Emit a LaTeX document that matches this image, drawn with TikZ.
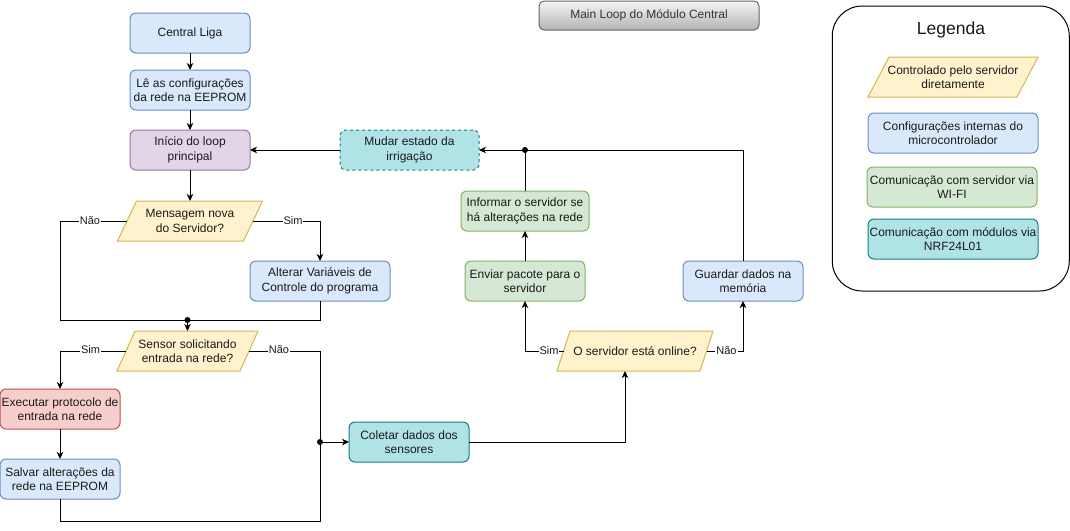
\documentclass[tikz,border=0pt]{standalone}
\usepackage{fontspec}
\setmainfont{Liberation Sans}
\usetikzlibrary{arrows.meta,backgrounds,calc}

\definecolor{blueF}{HTML}{DAE8FC}\definecolor{blueS}{HTML}{6C8EBF}
\definecolor{purpF}{HTML}{E1D5E7}\definecolor{purpS}{HTML}{9673A6}
\definecolor{yelF}{HTML}{FFF2CC}\definecolor{yelS}{HTML}{D6B656}
\definecolor{redF}{HTML}{F8CECC}\definecolor{redS}{HTML}{B85450}
\definecolor{grnF}{HTML}{D5E8D4}\definecolor{grnS}{HTML}{82B366}
\definecolor{tealF}{HTML}{B0E3E6}\definecolor{tealS}{HTML}{0E8088}
\definecolor{txt}{HTML}{1A1A1A}
\definecolor{ttlS}{HTML}{666666}\definecolor{ttlT}{HTML}{333333}
\definecolor{ttlTop}{HTML}{F5F5F5}\definecolor{ttlBot}{HTML}{B3B3B3}

\tikzset{
  every node/.style={outer sep=0pt},
  box/.style={rectangle, rounded corners=6pt, minimum width=120pt, minimum height=40pt,
    inner sep=0pt, align=center, line width=1pt, text=txt,
    font=\fontsize{12}{14.4}\selectfont},
  bluebox/.style={box, draw=blueS, fill=blueF},
  purpbox/.style={box, draw=purpS, fill=purpF},
  redbox/.style={box, draw=redS, fill=redF},
  grnbox/.style={box, draw=grnS, fill=grnF},
  tealbox/.style={box, draw=tealS, fill=tealF},
  paratext/.style={rectangle, minimum height=40pt, inner sep=0pt, align=center,
    text=txt, font=\fontsize{12}{14.4}\selectfont},
  conn/.style={line width=1pt, draw=black},
  arr/.style={conn, -{Stealth[length=7pt,width=6.5pt,inset=2pt]}},
  lbl/.style={fill=white, inner sep=1pt, text=txt, font=\fontsize{11}{13}\selectfont},
  jdot/.style={circle, fill=black, inner sep=0pt, minimum size=6pt},
}

% parallelogram drawn behind a text node: node, slant, fill, stroke
\newcommand\paraback[4]{%
  \begin{pgfonlayer}{background}
    \draw[line width=1pt, draw=#4, fill=#3]
      ([xshift=#2/2]#1.north west) -- ([xshift=#2/2]#1.north east) --
      ([xshift=-#2/2]#1.south east) -- ([xshift=-#2/2]#1.south west) -- cycle;
  \end{pgfonlayer}}

\begin{document}
\begin{tikzpicture}[x=1pt, y=-1pt]
\useasboundingbox (0,0) rectangle (1070,530);

% main column
\node[bluebox] (central) at (190,33) {Central Liga};
\node[bluebox] (le) at (190,90) {Lê as configurações\\da rede na EEPROM};
\node[purpbox] (inicio) at (190,150) {Início do loop\\principal};
\node[paratext, minimum width=126pt] (msg) at (190,221) {Mensagem nova\\do Servidor?};
\paraback{msg}{19}{yelF}{yelS}
\node[bluebox, minimum width=140pt] (alterar) at (320,281) {Alterar Variáveis de\\Controle do programa};
\node[paratext, minimum width=123pt] (sensor) at (187.5,351) {Sensor solicitando\\entrada na rede?};
\paraback{sensor}{18}{yelF}{yelS}
\node[redbox] (exec) at (60,409) {Executar protocolo de\\entrada na rede};
\node[bluebox] (salvar) at (60,479) {Salvar alterações da\\rede na EEPROM};

% right part of the loop
\node[tealbox] (coletar) at (409,442) {Coletar dados dos\\sensores};
\node[paratext, minimum width=143pt] (online) at (635,351) {O servidor está online?};
\paraback{online}{13}{yelF}{yelS}
\node[grnbox] (enviar) at (525,281) {Enviar pacote para o\\servidor};
\node[grnbox, minimum width=128pt] (informar) at (525,211) {Informar o servidor se\\há alterações na rede};
\node[bluebox] (guardar) at (743,281) {Guardar dados na\\memória};
\node[tealbox, dash pattern=on 3pt off 3pt, minimum width=139pt] (mudar) at (409.5,150) {Mudar estado da\\irrigação};

% junction dots
\node[jdot] (j1) at (187.5,320) {};
\node[jdot] (j2) at (320,442) {};
\node[jdot] (j3) at (525,150) {};

% connectors
\draw[arr] (central.south) -- (le.north);
\draw[arr] (le.south) -- (inicio.north);
\draw[arr] (inicio.south) -- (msg.north);
\draw[conn] (msg.west) -- (60,221) |- (j1.center);
\draw[arr] (msg.east) -| (alterar.north);
\draw[conn] (alterar.south) |- (j1.center);
\draw[arr] (j1.center) -- (sensor.north);
\draw[arr] (sensor.west) -| (exec.north);
\draw[arr] (exec.south) -- (salvar.north);
\draw[conn] (sensor.east) -| (j2.center);
\draw[conn] (salvar.south) -- (60,521) -| (j2.center);
\draw[arr] (j2.center) -- (coletar.west);
\draw[arr] (coletar.east) -| ([xshift=-10pt]online.south);
\draw[arr] (online.west) -| (enviar.south);
\draw[arr] (online.east) -| (guardar.south);
\draw[arr] (enviar.north) -- (informar.south);
\draw[conn] (informar.north) -- (j3.center);
\draw[arr] (guardar.north) |- (mudar.east);
\draw[arr] (mudar.west) -- (inicio.east);

% branch labels
\node[lbl] (nao1) at (90,221) {Não};
\node[lbl] (sim1) at (293,221) {Sim};
\node[lbl] (sim2) at (90.5,350) {Sim};
\node[lbl] (nao2) at (279,350) {Não};
\node[lbl] (sim3) at (549,351) {Sim};
\node[lbl] (nao3) at (726.5,351) {Não};

% title
\node[rectangle, rounded corners=5pt, draw=ttlS, line width=1pt, top color=ttlTop, bottom color=ttlBot,
  minimum width=220pt, minimum height=29pt, inner sep=0pt, text=ttlT,
  font=\fontsize{12}{14.4}\selectfont] (title) at (649,15.5) {Main Loop do Módulo Central};

% legend
\node[rectangle, rounded corners=30pt, draw=black, line width=1pt, minimum width=237pt,
  minimum height=285pt] (legend) at (950.75,148.5) {};
\node[text=txt, font=\fontsize{17.5}{20}\selectfont, inner sep=0pt] (legtitle) at (951,30) {Legenda};
\node[paratext, minimum width=149pt] (legpara) at (953,77) {Controlado pelo servidor\\diretamente};
\paraback{legpara}{21}{yelF}{yelS}
\node[bluebox, minimum width=170pt] (legblue) at (953,133) {Configurações internas do\\microcontrolador};
\node[grnbox, minimum width=170pt] (leggrn) at (952,187) {Comunicação com servidor via\\WI-FI};
\node[tealbox, minimum width=170pt] (legteal) at (953,239) {Comunicação com módulos via\\NRF24L01};
\end{tikzpicture}
\end{document}
